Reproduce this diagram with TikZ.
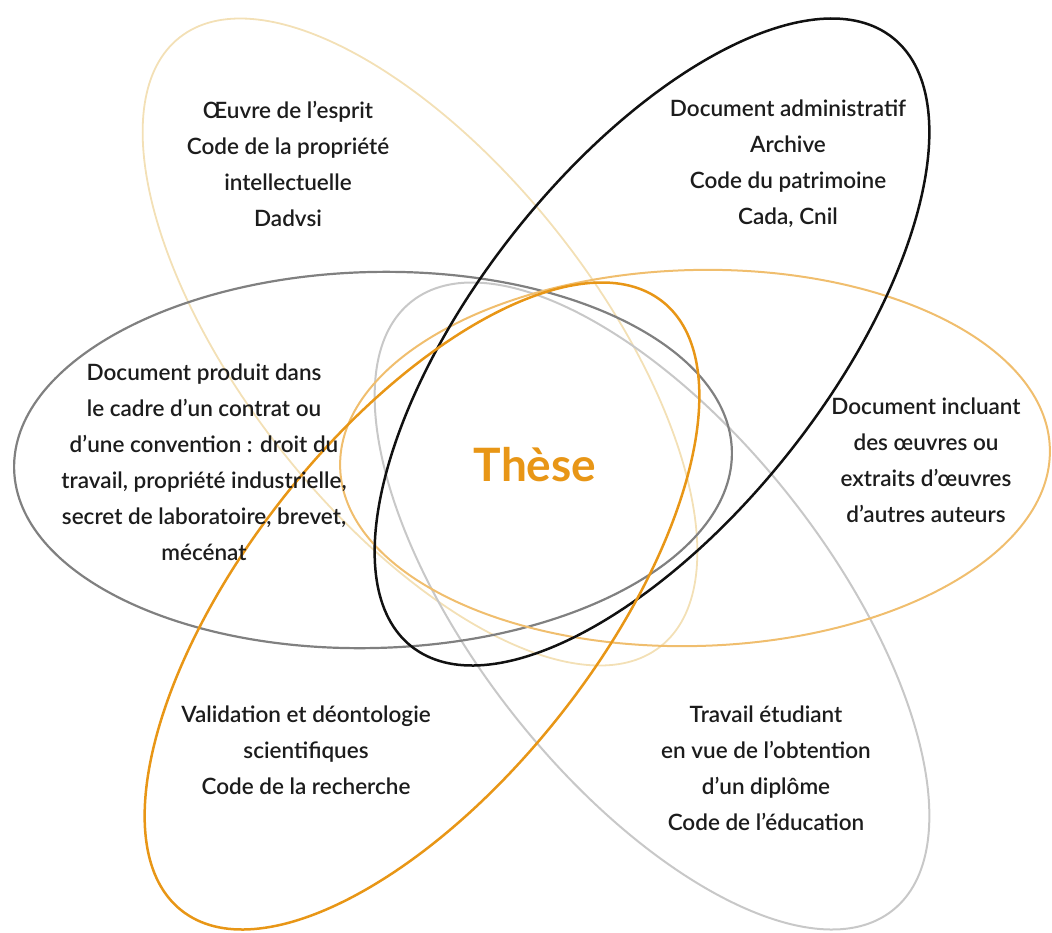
\documentclass[tikz,border=0pt]{standalone}
\usepackage{fontspec}
\setmainfont{Lato}
\newfontfamily\labfont{Lato Semibold}
\definecolor{ccream}{RGB}{243,224,182}
\definecolor{cpeach}{RGB}{240,190,110}
\definecolor{corange}{RGB}{232,150,22}
\definecolor{cdgray}{RGB}{128,128,128}
\definecolor{clgray}{RGB}{200,200,200}
\definecolor{cblack}{RGB}{17,17,17}
\definecolor{ctext}{RGB}{28,28,28}
\begin{document}
\begin{tikzpicture}[x=1pt,y=-1pt,
  ring/.style={line width=2.2pt},
  lab/.style={align=center,text=ctext,font=\labfont\fontsize{22.5}{36}\selectfont,inner sep=0pt},
  title/.style={text=corange,font=\bfseries\fontsize{46}{56}\selectfont,inner sep=0pt}]
\useasboundingbox (0,0) rectangle (1052,932);
% cream (Oeuvre)
\draw[ring,ccream,line width=1.8pt,rotate around={-51.7:(420,342)}] (420,342) ellipse [x radius=388,y radius=176];
% light gray (Travail)
\draw[ring,clgray,line width=2pt,rotate around={-51.7:(652,606)}] (652,606) ellipse [x radius=388,y radius=176];
% dark gray (Document produit)
\draw[ring,cdgray,rotate around={1.5:(373,460)}] (373,460) ellipse [x radius=359,y radius=188];
% peach (Document incluant)
\draw[ring,cpeach,line width=2pt,rotate around={1.5:(695,458)}] (695,458) ellipse [x radius=355,y radius=188];
% black (Document administratif)
\draw[ring,cblack,line width=2.5pt,rotate around={51.7:(652,342)}] (652,342) ellipse [x radius=388,y radius=176];
% orange (Validation)
\draw[ring,corange,line width=2.5pt,rotate around={51.7:(422,606)}] (422,606) ellipse [x radius=388,y radius=176];

\node[lab] (oeuvre) at (288,164) {Œuvre de l’esprit\\Code de la propriété\\intellectuelle\\Dadvsi};
\node[lab] (admin) at (788,164) {Document administratif\\Archive\\Code du patrimoine\\Cada, Cnil};
\node[lab] (produit) at (204,462) {Document produit dans\\le cadre d’un contrat ou\\d’une convention : droit du\\travail, propriété industrielle,\\secret de laboratoire, brevet,\\mécénat};
\node[lab] (incluant) at (926,460) {Document incluant\\des œuvres ou\\extraits d’œuvres\\d’autres auteurs};
\node[lab] (valid) at (306,750) {Validation et déontologie\\scientifiques\\Code de la recherche};
\node[lab] (travail) at (766,768) {Travail étudiant\\en vue de l’obtention\\d’un diplôme\\Code de l’éducation};
\node[title] (these) at (535,465) {Thèse};
\end{tikzpicture}
\end{document}
